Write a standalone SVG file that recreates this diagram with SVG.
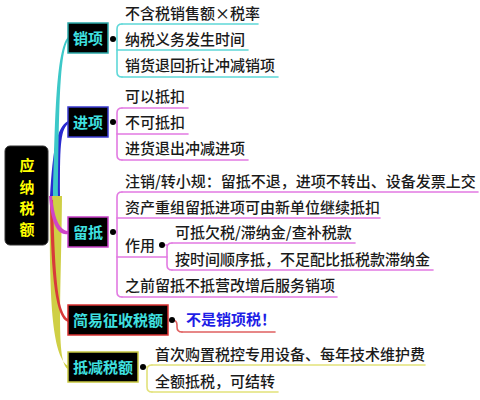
<svg xmlns="http://www.w3.org/2000/svg" width="480" height="400" viewBox="0 0 480 400">
<style>
.t{font-family:"Noto Sans CJK SC","Noto Sans",sans-serif;font-size:15px;font-weight:500;fill:#1a1a1a}
.bt{font-family:"Noto Sans CJK SC","Noto Sans",sans-serif;font-size:15px;font-weight:bold;fill:#3fe0e0}
.ln{fill:none;stroke-width:1.6;stroke-linecap:round}
.cy{stroke:#5fd8d8}.pk{stroke:#e27ae2}.rd{stroke:#e06060}.yl{stroke:#e2e27a}
.box{fill:#000;stroke-width:1.5}
</style>
<rect width="480" height="400" fill="#fff"/>
<g id="connectors">
  <path d="M50,196 C49,300 52,355 68,366 L68,369 C56,362 61,300 62,196 Z" fill="#cfcf45"/>
  <path d="M53,200 C55,280 58,312 68,319 L68,322 C56,318 51,280 50,200 Z" fill="#d83a3a"/>
  <path d="M52,196 C54,215 58,230 68,231 L68,234 C57,236 51,222 49,196 Z" fill="#d044c8"/>
  <path d="M50,196 C53,150 56,128 68,121 L68,124 C60,130 60,150 60,196 Z" fill="#2a2ad0"/>
  <path d="M53,196 C55,120 56,50 68,37 L68,40 C59,55 59,120 58,196 Z" fill="#3cc8c8"/>
  <path class="ln cy" d="M122,24 Q117,24 117,29 V72 Q117,77 122,77 M113,39 H117"/>
  <path class="ln pk" d="M122,108 Q117,108 117,113 V155 Q117,160 122,160 M113,122 H117"/>
  <path class="ln pk" d="M122,192 Q117,192 117,197 V292 Q117,297 122,297 M113,232 H117"/>
  <path class="ln pk" d="M172,243 Q167,243 167,248 V265 Q167,270 172,270 M162,245 H167"/>
  <path class="ln rd" d="M172,320 H172 Q177,320 177,325 V327 Q177,332 182,332"/>
  <path class="ln yl" d="M152,365 Q147,365 147,370 V387 Q147,392 152,392 M143,367 H147"/>
  <g fill="#000">
    <circle cx="113" cy="39" r="3"/><circle cx="113" cy="122" r="3"/><circle cx="113" cy="232" r="3"/>
    <circle cx="162" cy="245" r="3"/><circle cx="172" cy="320" r="3"/><circle cx="143" cy="367" r="3"/>
  </g>
</g>
<g id="root">
  <rect x="5" y="146" width="43" height="99" rx="5" fill="#000" stroke="#333"/>
  <g font-family="Noto Sans CJK SC, sans-serif" font-size="15" font-weight="bold" fill="#ffff00" text-anchor="middle">
    <text x="27" y="171">应</text><text x="27" y="193">纳</text><text x="27" y="214">税</text><text x="27" y="235">额</text>
  </g>
</g>
<g id="xiaoxiang">
  <rect class="box" x="68" y="23" width="40" height="30" stroke="#2aa8a8"/>
  <text class="bt" x="73" y="44">销项</text>
</g>
<g id="xx1"><text class="t" x="125" y="19">不含税销售额×税率</text><path class="ln cy" d="M122,24 H258"/></g>
<g id="xx2"><text class="t" x="125" y="45">纳税义务发生时间</text><path class="ln cy" d="M117,50 H248"/></g>
<g id="xx3"><text class="t" x="125" y="71">销货退回折让冲减销项</text><path class="ln cy" d="M122,77 H278"/></g>
<g id="jinxiang">
  <rect class="box" x="68" y="107" width="40" height="30" stroke="#3a3ad0"/>
  <text class="bt" x="73" y="128">进项</text>
</g>
<g id="jx1"><text class="t" x="125" y="102">可以抵扣</text><path class="ln pk" d="M122,108 H188"/></g>
<g id="jx2"><text class="t" x="125" y="128">不可抵扣</text><path class="ln pk" d="M117,134 H188"/></g>
<g id="jx3"><text class="t" x="125" y="154">进货退出冲减进项</text><path class="ln pk" d="M122,160 H248"/></g>
<g id="liudi">
  <rect class="box" x="68" y="217" width="40" height="30" stroke="#c840c8"/>
  <text class="bt" x="73" y="238">留抵</text>
</g>
<g id="ld1"><text class="t" x="125" y="187">注销/转小规：留抵不退，进项不转出、设备发票上交</text><path class="ln pk" d="M122,192 H478"/></g>
<g id="ld2"><text class="t" x="125" y="213">资产重组留抵进项可由新单位继续抵扣</text><path class="ln pk" d="M117,218 H380"/></g>
<g id="zuoyong"><text class="t" x="125" y="251">作用</text><path class="ln pk" d="M117,257 H167"/></g>
<g id="zy1"><text class="t" x="175" y="238">可抵欠税/滞纳金/查补税款</text><path class="ln pk" d="M172,243 H355"/></g>
<g id="zy2"><text class="t" x="175" y="265">按时间顺序抵，不足配比抵税款滞纳金</text><path class="ln pk" d="M172,270 H433"/></g>
<g id="ld3"><text class="t" x="125" y="291">之前留抵不抵营改增后服务销项</text><path class="ln pk" d="M122,297 H337"/></g>
<g id="jianyi">
  <rect class="box" x="68" y="305" width="100" height="30" stroke="#d83030"/>
  <text class="bt" x="73" y="326">简易征收税额</text>
</g>
<g id="jy1"><text class="t" x="186" y="325" style="fill:#1e1ee6;font-weight:bold">不是销项税！</text><path class="ln rd" d="M182,332 H275"/></g>
<g id="dijian">
  <rect class="box" x="68" y="352" width="70" height="30" stroke="#c8c840"/>
  <text class="bt" x="73" y="373">抵减税额</text>
</g>
<g id="dj1"><text class="t" x="155" y="360">首次购置税控专用设备、每年技术维护费</text><path class="ln yl" d="M152,365 H425"/></g>
<g id="dj2"><text class="t" x="155" y="387">全额抵税，可结转</text><path class="ln yl" d="M152,392 H278"/></g>
</svg>
